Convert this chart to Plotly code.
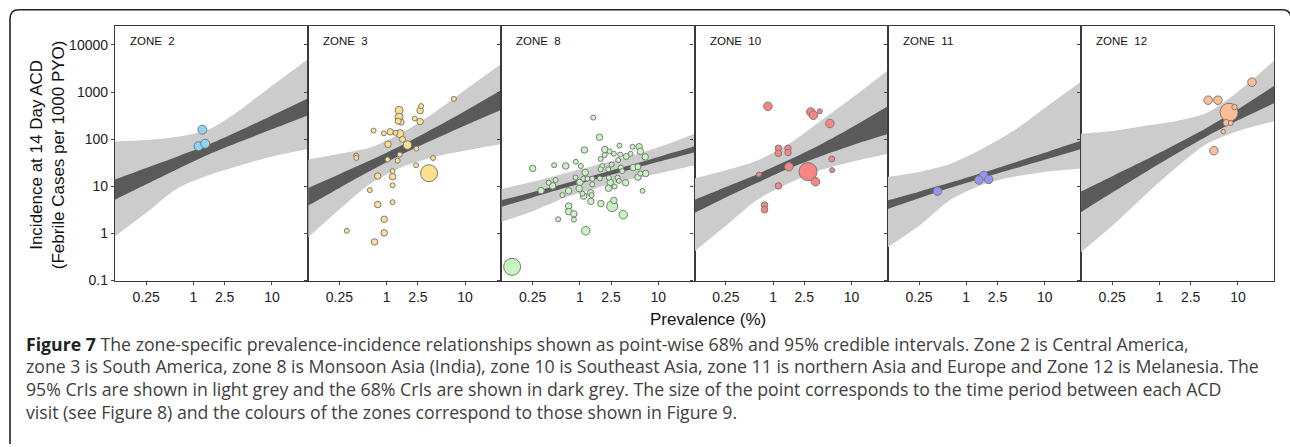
import plotly.graph_objects as go

# ---------------- data ----------------
zones = ["ZONE  2", "ZONE  3", "ZONE  8", "ZONE  10", "ZONE  11", "ZONE  12"]
colors = ["#8ad6f6", "#fde08e", "#c6f5c0", "#f88484", "#9494f6", "#fdbd96"]

# prevalence grid where credible bands were read
xgrid = [0.1, 0.25, 0.63, 1.58, 3.98, 10, 29]

z2_hi95 = [89.5, 95.5, 112, 162, 423, 1358, 5035]
z2_lo95 = [0.87, 2.74, 9.1, 17.3, 27.9, 43, 62]
z2_hi68 = [14.0, 24.5, 43, 77.6, 154, 317, 740]
z2_lo68 = [5.2, 11.0, 23.4, 48, 89.5, 162, 322]

z3_hi95 = [36.6, 48.8, 67.1, 138, 360, 1101, 3963]
z3_lo95 = [0.826, 3.22, 11.6, 25.7, 41.6, 57.3, 78.7]
z3_hi68 = [9.25, 18.1, 36, 75.2, 170, 396, 1101]
z3_lo68 = [3.9, 9.25, 21.6, 48, 98.6, 196, 423]

z8_hi95 = [8.8, 12.5, 18.7, 27.9, 41.6, 67.1, 131]
z8_lo95 = [1.75, 2.97, 5.64, 9.1, 13.6, 18.7, 27.9]
z8_hi68 = [5.04, 7.5, 11.3, 17.3, 26.8, 41.9, 70.5]
z8_lo68 = [3.66, 5.82, 9.17, 14.2, 21.7, 33, 52.8]

z10_hi95 = [14.7, 21.9, 35.4, 78.7, 241, 740, 2876]
z10_lo95 = [0.416, 1.45, 5.2, 11.6, 21.9, 32.7, 48.8]
z10_hi68 = [5.2, 9.7, 18.1, 36, 76.3, 177, 500]
z10_lo68 = [2.74, 5.82, 11.9, 23.8, 43, 73.3, 128]

z11_hi95 = [15.9, 20.2, 30.2, 62, 149, 457, 1644]
z11_lo95 = [0.51, 1.45, 5.2, 10.7, 15.9, 20.2, 23.8]
z11_hi68 = [5.04, 7.7, 12.0, 19.2, 31.3, 51.5, 92.5]
z11_lo68 = [3.32, 5.6, 9.3, 14.9, 23.5, 36.8, 62]

z12_hi95 = [131, 149, 190, 241, 360, 1019, 4645]
z12_lo95 = [0.40, 1.45, 6.1, 23.8, 78.7, 149, 241]
z12_hi68 = [7.75, 16.4, 34.8, 76.4, 173, 432, 1358]
z12_lo68 = [2.83, 7.36, 19, 47.3, 114, 251, 582]

# observed points: prevalence (%), incidence, relative point size
z2_prev = [1.30, 1.16, 1.41]
z2_inc = [159, 71, 80]
z2_size = [9, 9, 9]

z3_prev = [7.2, 2.75, 2.67, 1.44, 1.44, 1.53, 1.40, 2.28, 2.67, 0.68, 0.92, 1.11, 1.30,
           1.47, 1.59, 1.84, 1.04, 2.39, 0.41, 0.41, 1.47, 1.03, 1.38, 3.9, 2.37, 3.47,
           1.19, 1.19, 0.77, 1.19, 0.61, 0.77, 1.19, 0.93, 0.31, 0.93, 0.70]
z3_inc = [715, 503, 402, 409, 293, 230, 241, 274, 237, 152, 133, 143, 136,
          131, 99, 75, 78, 63, 45, 40, 47, 37, 35, 40, 28, 19,
          21, 16, 16.5, 10.5, 8.3, 4.1, 4.6, 2.0, 1.14, 1.03, 0.66]
z3_size = [5, 5, 6.5, 8, 8, 6, 6, 5, 6.5, 5, 5, 6.5, 5,
           8, 6, 8.5, 6.5, 5, 5, 5, 5, 5, 5, 5, 5, 17,
           5, 6.5, 6.5, 5, 5, 6.5, 5, 6.5, 5, 6.5, 6.5]

z8_prev = [1.48, 1.78, 1.14, 2.08, 3.2, 4.7, 5.7, 5.9, 6.8, 2.39, 2.71, 3.27, 3.9, 4.43,
           1.84, 3.08, 2.07, 0.89, 1.03, 0.66, 0.47, 0.25, 1.93, 2.54, 3.33, 4.8, 5.5,
           1.84, 2.30, 1.17, 3.47, 5.9, 6.9, 5.5, 0.88, 1.11, 1.25, 1.44, 1.80, 2.34,
           3.03, 0.40, 0.45, 0.49, 1.0, 1.44, 2.44, 3.14, 3.83, 2.77, 2.32, 0.98, 0.72,
           0.32, 0.60, 1.08, 1.37, 6.3, 1.41, 1.12, 1.38, 1.85, 2.71, 2.58, 0.72, 0.72,
           0.84, 3.57, 0.53, 0.84, 1.19, 0.137]
z8_inc = [287, 110, 59, 60, 73, 69, 69, 55, 42, 55, 49, 47, 43, 49,
          38, 36, 46, 33, 27, 27, 28, 24, 27, 29, 25, 25, 26,
          23, 23, 19.6, 21, 18.7, 18.7, 15.7, 15.4, 14.5, 14.5, 14.5, 14.7, 15.2,
          15.2, 11.9, 10.2, 13.6, 12.1, 11, 12.1, 13, 11.9, 9.9, 9.1, 9.0, 8.0,
          8.1, 6.5, 7.0, 7.3, 8.0, 6.5, 6.2, 4.8, 4.3, 5.0, 3.8, 3.8, 2.9,
          2.6, 2.5, 2.0, 1.96, 1.14, 0.196]
z8_size = [5, 6.5, 6.5, 6.5, 5, 5, 6.5, 6.5, 6.5, 5, 5, 5, 6, 5,
           5, 5, 5, 5, 5, 6.5, 5, 6.5, 5, 5, 5, 6.5, 6,
           5, 5, 6.5, 5, 5, 6.5, 6.5, 5, 5, 5, 5, 5, 5,
           5, 5, 6.5, 5, 6.5, 5, 6.5, 5, 6.5, 5, 6.5, 6.5, 6.5,
           6.5, 5, 5, 6.5, 5, 5, 6.5, 6.5, 6.5, 6.5, 11, 6.5, 6.5,
           6.5, 8.5, 5, 5, 8.5, 17]

z10_prev = [0.86, 3.03, 3.27, 3.94, 5.3, 1.17, 1.17, 1.55, 1.55, 5.6, 1.59, 0.66, 2.79,
            5.65, 3.47, 1.17, 0.78, 0.78]
z10_inc = [497, 378, 322, 391, 215, 64, 50, 64, 52, 38, 26, 17.8, 20.5,
           22, 12.5, 10.2, 4.0, 3.2]
z10_size = [8.5, 8.5, 8.5, 5, 8.5, 6.5, 6.5, 6.5, 6.5, 6, 8.5, 5, 18,
            5, 8.5, 6.5, 6.5, 6.5]

z11_prev = [0.43, 1.67, 1.45, 1.93]
z11_inc = [7.9, 17, 13.6, 14]
z11_size = [8.5, 8.5, 8.5, 8.5]

z12_prev = [15.1, 4.18, 5.56, 7.7, 9.05, 7.1, 8.1, 6.5, 4.94]
z12_inc = [1616, 671, 671, 372, 480, 223, 220, 145, 57]
z12_size = [8.5, 8.5, 8.5, 18, 5.5, 6.5, 5, 4.5, 8.5]

x_tickvals = [0.25, 1, 2.5, 10]
x_ticktext = ["0.25", "1", "2.5", "10"]
y_tickvals = [0.1, 1, 10, 100, 1000, 10000]
y_ticktext = ["0.1", "1", "10", "100", "1000", "10000"]

caption_lines = [
    "<b><span style='color:#222'>Figure 7</span></b> The zone-specific prevalence-incidence relationships shown as point-wise 68% and 95% credible intervals. Zone 2 is Central America,",
    "zone 3 is South America, zone 8 is Monsoon Asia (India), zone 10 is Southeast Asia, zone 11 is northern Asia and Europe and Zone 12 is Melanesia. The",
    "95% CrIs are shown in light grey and the 68% CrIs are shown in dark grey. The size of the point corresponds to the time period between each ACD",
    "visit (see Figure 8) and the colours of the zones correspond to those shown in Figure 9.",
]

bands = [
    (z2_hi95, z2_lo95, z2_hi68, z2_lo68),
    (z3_hi95, z3_lo95, z3_hi68, z3_lo68),
    (z8_hi95, z8_lo95, z8_hi68, z8_lo68),
    (z10_hi95, z10_lo95, z10_hi68, z10_lo68),
    (z11_hi95, z11_lo95, z11_hi68, z11_lo68),
    (z12_hi95, z12_lo95, z12_hi68, z12_lo68),
]
points = [
    (z2_prev, z2_inc, z2_size),
    (z3_prev, z3_inc, z3_size),
    (z8_prev, z8_inc, z8_size),
    (z10_prev, z10_inc, z10_size),
    (z11_prev, z11_inc, z11_size),
    (z12_prev, z12_inc, z12_size),
]

# ---------------- figure ----------------
W, H = 1290, 447
PANEL_L, PANEL_W = 115.0, 193.2
PLOT_TOP, PLOT_BOT = 26.7, 285.7

fig = go.Figure()
layout = dict(
    width=W, height=H, autosize=False,
    margin=dict(l=0, r=0, t=0, b=0),
    paper_bgcolor="white", plot_bgcolor="white",
    showlegend=False,
    font=dict(family="Liberation Sans, Arial, sans-serif", color="#222"),
)

LIGHT = "#cccccc"
DARK = "#5a5a5a"

annotations = []
for k in range(6):
    xa = "x" if k == 0 else f"x{k+1}"
    ya = "y" if k == 0 else f"y{k+1}"
    hi95, lo95, hi68, lo68 = bands[k]
    for lo, hi, col in ((lo95, hi95, LIGHT), (lo68, hi68, DARK)):
        fig.add_trace(go.Scatter(x=xgrid, y=lo, mode="lines", line=dict(width=0, shape="spline", smoothing=0.8),
                                 xaxis=xa, yaxis=ya, hoverinfo="skip"))
        fig.add_trace(go.Scatter(x=xgrid, y=hi, mode="lines", line=dict(width=0, shape="spline", smoothing=0.8),
                                 fill="tonexty", fillcolor=col, xaxis=xa, yaxis=ya, hoverinfo="skip"))
    px_, py_, ps_ = points[k]
    # draw biggest first so small points stay visible
    order = sorted(range(len(px_)), key=lambda i: -ps_[i])
    fig.add_trace(go.Scatter(
        x=[px_[i] for i in order], y=[py_[i] for i in order], mode="markers",
        marker=dict(size=[ps_[i] for i in order], color=colors[k], opacity=1,
                    line=dict(color="#7a7a7a", width=1)),
        xaxis=xa, yaxis=ya, cliponaxis=True))

    x0 = (PANEL_L + k * PANEL_W) / W
    x1 = (PANEL_L + (k + 1) * PANEL_W) / W
    xkey = "xaxis" if k == 0 else f"xaxis{k+1}"
    ykey = "yaxis" if k == 0 else f"yaxis{k+1}"
    layout[xkey] = dict(
        domain=[x0, x1], anchor=ya, type="log", range=[-1, 1.4624],
        tickvals=x_tickvals, ticktext=x_ticktext, ticks="outside", ticklen=3,
        tickcolor="#444", tickwidth=1, tickfont=dict(size=14, color="#222"),
        showline=True, mirror=True, linecolor="#3a3a3a", linewidth=1.3,
        showgrid=False, zeroline=False,
    )
    layout[ykey] = dict(
        domain=[1 - PLOT_BOT / H, 1 - PLOT_TOP / H], anchor=xa, type="log",
        range=[-1, 4.396], tickvals=y_tickvals, ticktext=y_ticktext,
        ticks="outside", ticklen=3, tickcolor="#444", tickwidth=1,
        showticklabels=(k == 0), tickfont=dict(size=14, color="#222"),
        showline=True, mirror=True, linecolor="#3a3a3a", linewidth=1.3,
        showgrid=False, zeroline=False,
    )
    annotations.append(dict(
        text=zones[k], x=(PANEL_L + k * PANEL_W + 13) / W, y=1 - 41.7 / H,
        xref="paper", yref="paper", xanchor="left", yanchor="middle",
        showarrow=False, font=dict(size=11.5, color="#111")))

annotations.append(dict(
    text="Prevalence (%)", x=708 / W, y=1 - 325 / H, xref="paper", yref="paper",
    xanchor="center", yanchor="middle", showarrow=False,
    font=dict(size=17, color="#111")))
annotations.append(dict(
    text="Incidence at 14 Day ACD<br>(Febrile Cases per 1000 PYO)",
    x=47 / W, y=1 - 158 / H, xref="paper", yref="paper", textangle=-90,
    xanchor="center", yanchor="middle", showarrow=False,
    font=dict(size=17, color="#111")))

cap_y = [350, 373, 396, 419]
for line, yy in zip(caption_lines, cap_y):
    annotations.append(dict(
        text=line, x=24 / W, y=1 - yy / H, xref="paper", yref="paper",
        xanchor="left", yanchor="middle", showarrow=False, align="left",
        font=dict(family="Open Sans, Noto Sans, sans-serif", size=17.7, color="#404040")))

layout["annotations"] = annotations

# rounded figure frame
fx0, fx1, ft, r = 10.0, 1291.0, 10.0, 9.0
def px(v):
    return v / W
def py(v):
    return 1 - v / H
path = (f"M {px(fx0)},{py(H + 5)} L {px(fx0)},{py(ft + r)} "
        f"Q {px(fx0)},{py(ft)} {px(fx0 + r)},{py(ft)} "
        f"L {px(fx1 - r)},{py(ft)} Q {px(fx1)},{py(ft)} {px(fx1)},{py(ft + r)} "
        f"L {px(fx1)},{py(H + 5)}")
layout["shapes"] = [dict(type="path", path=path, xref="paper", yref="paper",
                         line=dict(color="#222", width=1.6))]

fig.update_layout(**layout)
fig.write_html("out.html")
